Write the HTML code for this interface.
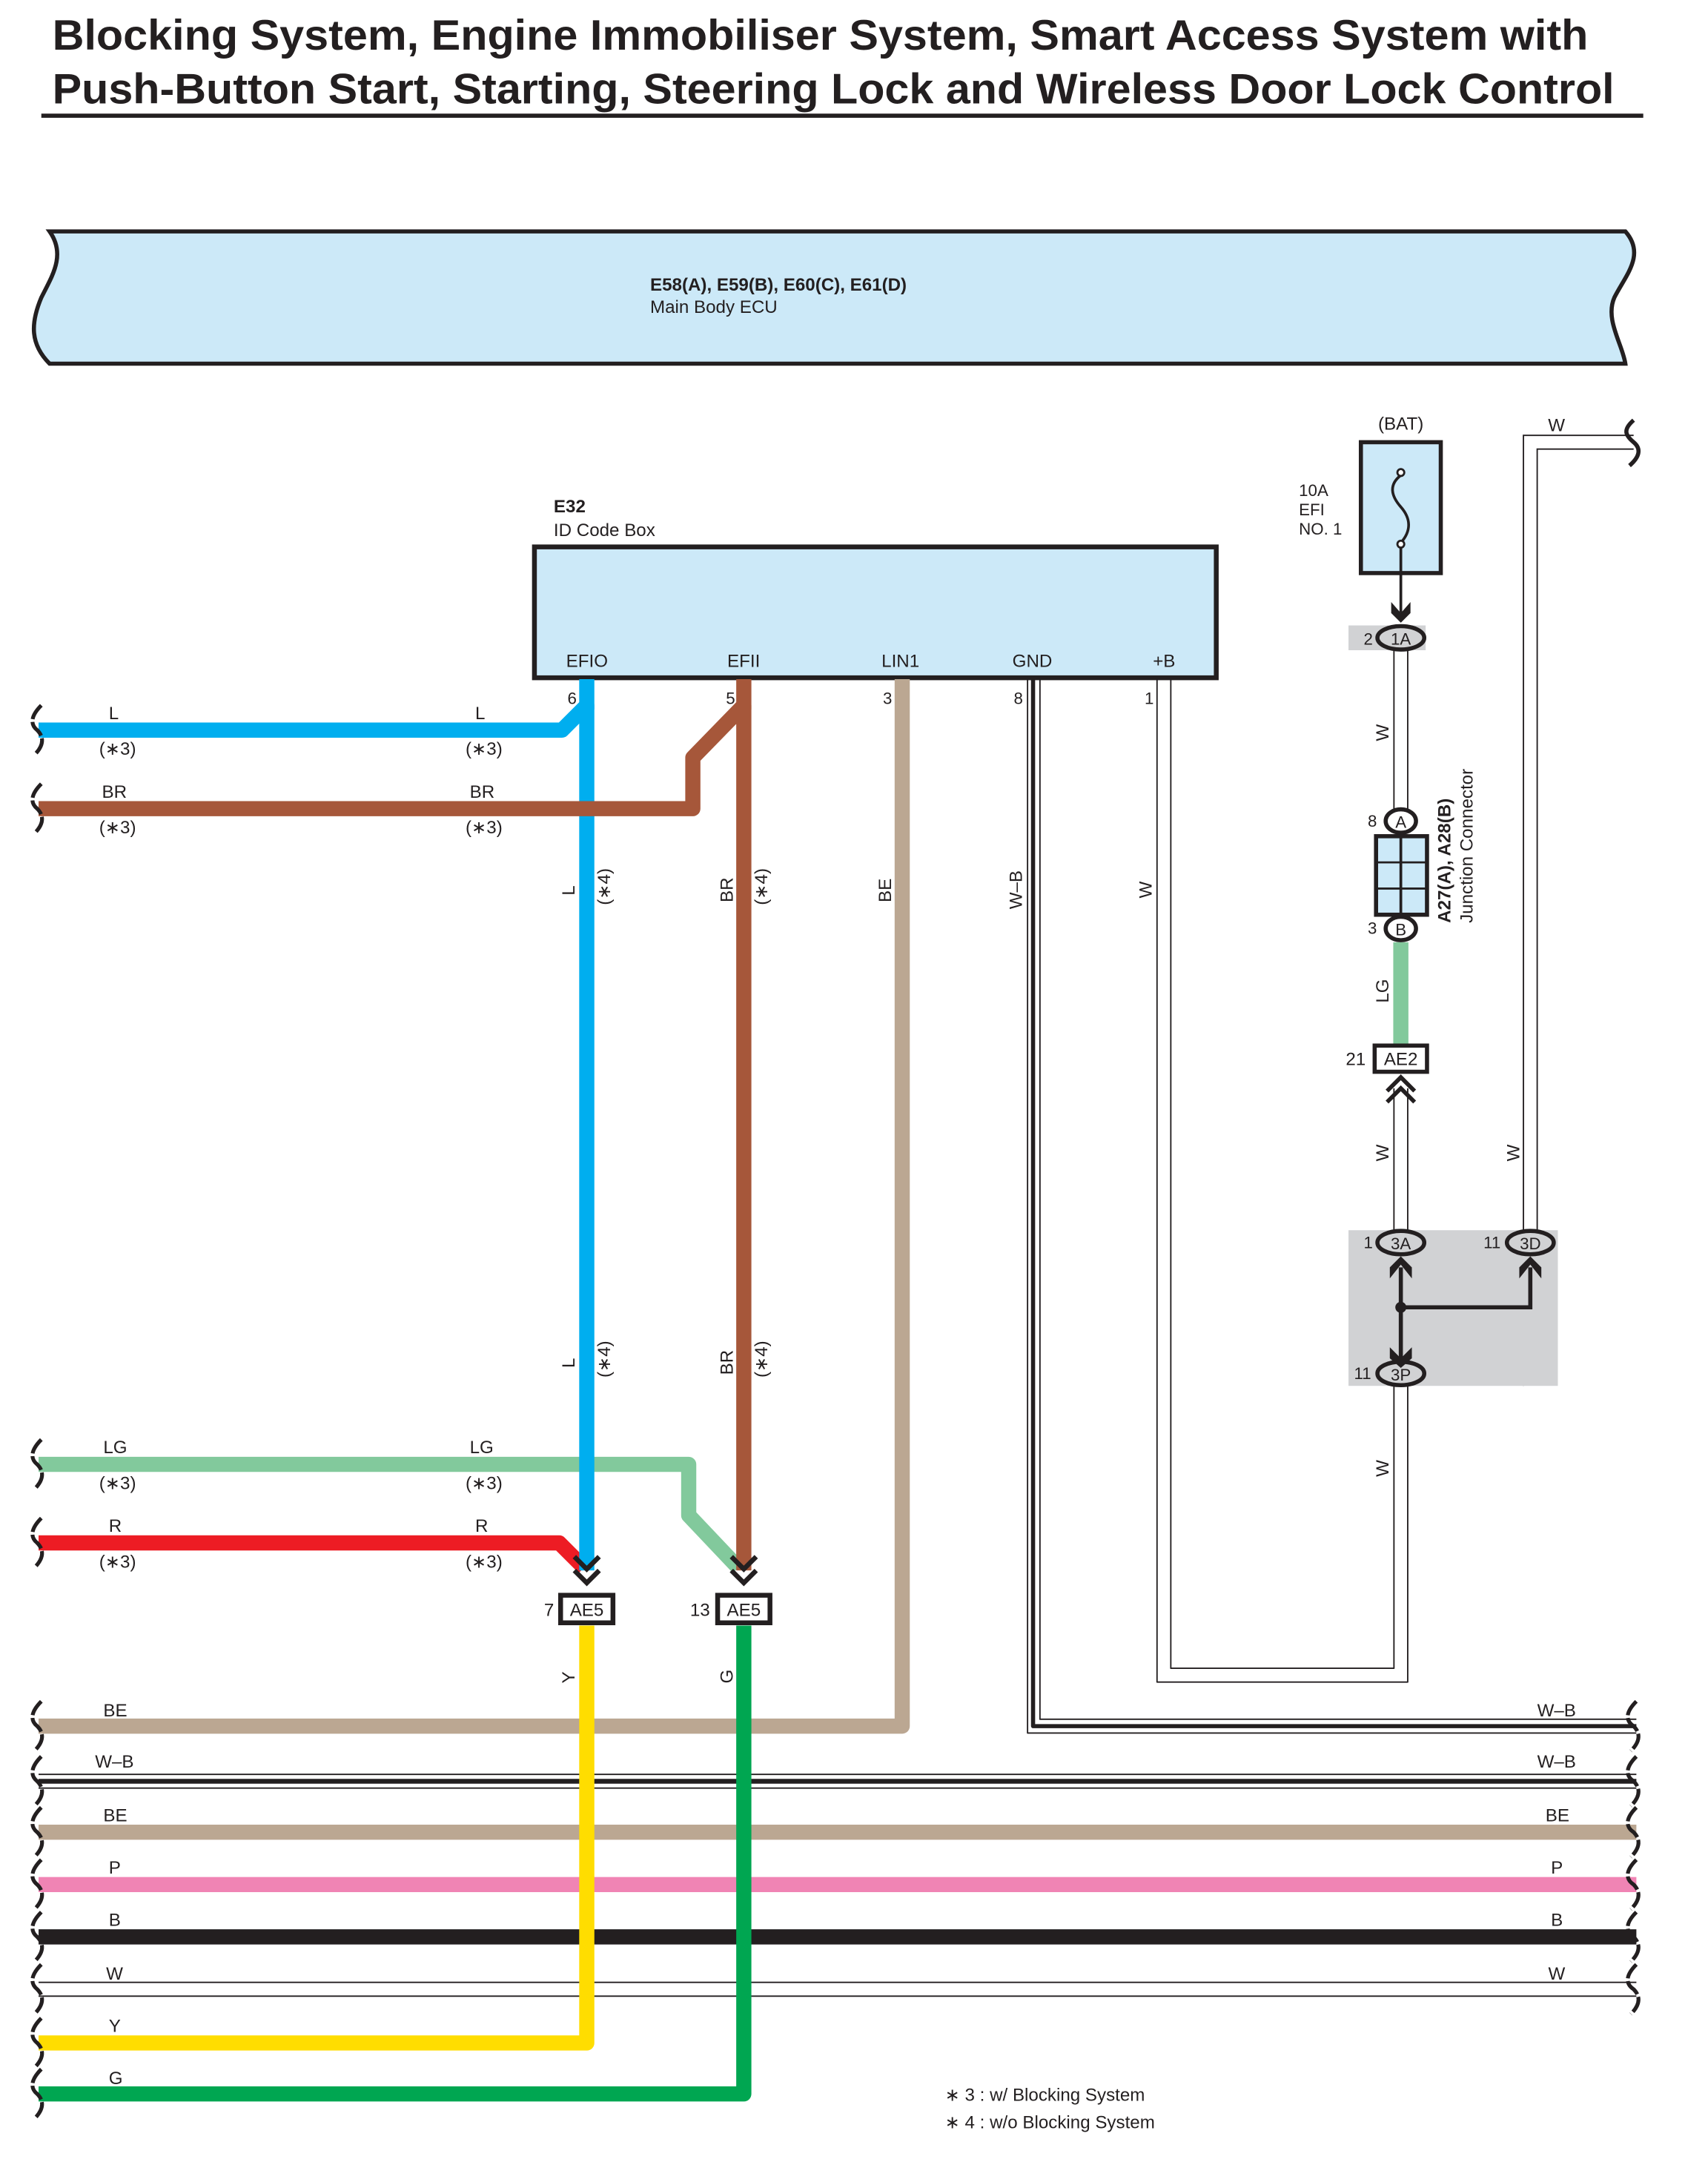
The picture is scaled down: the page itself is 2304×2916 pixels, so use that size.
<!DOCTYPE html>
<html><head><meta charset="utf-8"><style>
html,body{margin:0;padding:0;background:#fff}
svg{display:block}
text{font-family:"Liberation Sans Narrow","Liberation Sans",sans-serif;fill:#231f20}
.t{font-family:"Liberation Sans",sans-serif;font-weight:bold;font-size:31px}
.s{font-size:13px}
.m{font-size:12px}
.c{text-anchor:middle}
</style></head><body>
<svg width="2304" height="2916" viewBox="0 0 1240 1569.4" preserveAspectRatio="none" xmlns="http://www.w3.org/2000/svg">
<text class="t" x="38" y="36" textLength="1115" lengthAdjust="spacingAndGlyphs">Blocking System, Engine Immobiliser System, Smart Access System with</text>
<text class="t" x="38" y="75" textLength="1134" lengthAdjust="spacingAndGlyphs">Push-Button Start, Starting, Steering Lock and Wireless Door Lock Control</text>
<line x1="30" y1="84" x2="1193" y2="84" stroke="#231f20" stroke-width="3"/>

<path d="M36,168 L1180,168 C1195,185 1180,200 1172,216 C1165,232 1178,250 1180,264 L36,264 C22,250 22,235 30,216 C38,200 48,185 36,168 Z" fill="#cce9f8" stroke="#231f20" stroke-width="3"/>
<text x="472" y="211" class="s" style="font-weight:bold">E58(A), E59(B), E60(C), E61(D)</text>
<text x="472" y="227" class="s">Main Body ECU</text>

<text x="402" y="372" class="s" style="font-weight:bold">E32</text>
<text x="402" y="389" class="s">ID Code Box</text>
<rect x="388" y="397" width="495" height="95" fill="#cce9f8" stroke="#231f20" stroke-width="3.5"/>
<text x="411" y="484" class="s">EFIO</text>
<text x="528" y="484" class="s">EFII</text>
<text x="640" y="484" class="s">LIN1</text>
<text x="735" y="484" class="s">GND</text>
<text x="837" y="484" class="s">+B</text>
<text x="412" y="511" class="m">6</text>
<text x="527" y="511" class="m">5</text>
<text x="641" y="511" class="m">3</text>
<text x="736" y="511" class="m">8</text>
<text x="831" y="511" class="m">1</text>

<g fill="none" stroke-linejoin="round">
<line x1="28" y1="1288" x2="1188" y2="1288" stroke="#231f20" stroke-width="1"/>
<line x1="28" y1="1293" x2="1188" y2="1293" stroke="#231f20" stroke-width="3.5"/>
<line x1="28" y1="1298" x2="1188" y2="1298" stroke="#231f20" stroke-width="1"/>
<line x1="28" y1="1330" x2="1188" y2="1330" stroke="#bba792" stroke-width="11"/>
<line x1="28" y1="1368" x2="1188" y2="1368" stroke="#f084b4" stroke-width="11"/>
<line x1="28" y1="1406" x2="1188" y2="1406" stroke="#231f20" stroke-width="11"/>
<line x1="28" y1="1439" x2="1188" y2="1439" stroke="#231f20" stroke-width="1"/>
<line x1="28" y1="1449" x2="1188" y2="1449" stroke="#231f20" stroke-width="1"/>

<polyline points="746,493 746,1258 1188,1258" stroke="#231f20" stroke-width="1"/>
<polyline points="750,493 750,1253 1188,1253" stroke="#231f20" stroke-width="3"/>
<polyline points="755,493 755,1248 1188,1248" stroke="#231f20" stroke-width="1"/>
<polyline points="840,493 840,1221 1022,1221 1022,1006" stroke="#231f20" stroke-width="1"/>
<polyline points="850,493 850,1211 1012,1211 1012,1006" stroke="#231f20" stroke-width="1"/>

<polyline points="655,493 655,1253 28,1253" stroke="#bba792" stroke-width="11"/>
<polyline points="28,1063 500,1063 500,1100 536,1138" stroke="#82c99c" stroke-width="11"/>
<polyline points="28,1120 406,1120 424,1138" stroke="#ed1c24" stroke-width="11"/>
<polyline points="28,530 408,530 426,512 426,1140" stroke="#00aeef" stroke-width="11"/>
<polyline points="28,587 503,587 503,550 540,512 540,1140" stroke="#a6573a" stroke-width="11"/>
<line x1="540" y1="493" x2="540" y2="515" stroke="#a6573a" stroke-width="11"/>
<line x1="426" y1="493" x2="426" y2="515" stroke="#00aeef" stroke-width="11"/>
<polyline points="426,1180 426,1483 28,1483" stroke="#ffdd00" stroke-width="11"/>
<polyline points="540,1180 540,1520 28,1520" stroke="#00a651" stroke-width="11"/>

<polyline points="417,1130 426,1139 435,1130" stroke="#231f20" stroke-width="3.5" stroke-linejoin="miter"/>
<polyline points="417,1140 426,1149 435,1140" stroke="#231f20" stroke-width="3.5" stroke-linejoin="miter"/>
<polyline points="531,1130 540,1139 549,1130" stroke="#231f20" stroke-width="3.5" stroke-linejoin="miter"/>
<polyline points="531,1140 540,1149 549,1140" stroke="#231f20" stroke-width="3.5" stroke-linejoin="miter"/>
</g>
<rect x="407" y="1158" width="38" height="20" fill="#fff" stroke="#231f20" stroke-width="3.5"/>
<rect x="521" y="1158" width="38" height="20" fill="#fff" stroke="#231f20" stroke-width="3.5"/>
<text x="426" y="1173" class="s c">AE5</text>
<text x="540" y="1173" class="s c">AE5</text>
<text x="395" y="1173" class="s">7</text>
<text x="501" y="1173" class="s">13</text>

<g fill="none">
<polyline points="1106,1006 1106,316 1186,316" stroke="#231f20" stroke-width="1"/>
<polyline points="1116,893 1116,326 1186,326" stroke="#231f20" stroke-width="1"/>
<line x1="1012" y1="472" x2="1012" y2="588" stroke="#231f20" stroke-width="1"/>
<line x1="1022" y1="472" x2="1022" y2="588" stroke="#231f20" stroke-width="1"/>
<line x1="1012" y1="790" x2="1012" y2="893" stroke="#231f20" stroke-width="1"/>
<line x1="1022" y1="790" x2="1022" y2="893" stroke="#231f20" stroke-width="1"/>
<line x1="1017" y1="684" x2="1017" y2="759" stroke="#82c99c" stroke-width="11"/>
</g>
<rect x="979" y="454" width="56" height="18" fill="#d1d2d4"/>
<rect x="979" y="893" width="152" height="113" fill="#d1d2d4"/>
<rect x="988" y="321" width="58" height="95" fill="#cce9f8" stroke="#231f20" stroke-width="3"/>
<path d="M1017,345 C1008,352 1010,360 1017,368 C1024,376 1025,385 1017,394" fill="none" stroke="#231f20" stroke-width="2"/>
<circle cx="1017" cy="343" r="2.5" fill="#fff" stroke="#231f20" stroke-width="1.5"/>
<circle cx="1017" cy="395" r="2.5" fill="#fff" stroke="#231f20" stroke-width="1.5"/>
<line x1="1017" y1="397" x2="1017" y2="445" stroke="#231f20" stroke-width="2"/>
<path d="M1010,437 L1017,445 L1024,437 L1024,445 L1017,452 L1010,445 Z" fill="#231f20"/>
<text x="1017" y="312" class="s c">(BAT)</text>
<text x="943" y="360" class="m">10A</text>
<text x="943" y="374" class="m">EFI</text>
<text x="943" y="388" class="m">NO. 1</text>
<text x="1130" y="313" class="s c">W</text>
<path d="M1186,305 C1178,312 1180,316 1186,321 C1192,326 1190,332 1183,338" fill="none" stroke="#231f20" stroke-width="3"/>

<g stroke="#231f20" stroke-width="3" fill="#d1d2d4">
<ellipse cx="1017" cy="463" rx="17" ry="8.5"/>
<ellipse cx="1017" cy="902" rx="17" ry="8.5"/>
<ellipse cx="1111" cy="902" rx="17" ry="8.5"/>
<ellipse cx="1017" cy="997" rx="17" ry="8.5"/>
</g>
<g stroke="#231f20" stroke-width="3" fill="#fff">
<ellipse cx="1017" cy="596" rx="11" ry="8.5"/>
<ellipse cx="1017" cy="674" rx="11" ry="8.5"/>
</g>
<rect x="999" y="607" width="37" height="57" fill="#cce9f8" stroke="#231f20" stroke-width="3"/>
<line x1="1017" y1="607" x2="1017" y2="664" stroke="#231f20" stroke-width="2"/>
<line x1="999" y1="626" x2="1036" y2="626" stroke="#231f20" stroke-width="1.5"/>
<line x1="999" y1="645" x2="1036" y2="645" stroke="#231f20" stroke-width="1.5"/>
<text x="1017" y="468" class="m c">1A</text>
<text x="990" y="468" class="m">2</text>
<text x="1017" y="601" class="m c">A</text>
<text x="993" y="600" class="m">8</text>
<text x="1017" y="679" class="m c">B</text>
<text x="993" y="678" class="m">3</text>
<text x="1017" y="907" class="m c">3A</text>
<text x="990" y="906" class="m">1</text>
<text x="1111" y="907" class="m c">3D</text>
<text x="1077" y="906" class="m">11</text>
<text x="1017" y="1002" class="m c">3P</text>
<text x="983" y="1001" class="m">11</text>
<rect x="998" y="759" width="38" height="19" fill="#fff" stroke="#231f20" stroke-width="3"/>
<text x="1017" y="773" class="s c">AE2</text>
<text x="977" y="773" class="s">21</text>
<g fill="none" stroke="#231f20" stroke-width="3">
<polyline points="1007,792 1017,782 1027,792"/>
<polyline points="1007,800 1017,790 1027,800"/>
<polyline points="1017,920 1017,990"/>
<polyline points="1017,949 1111,949 1111,920"/>
</g>
<path d="M1009,928 L1017,918 L1025,928 L1025,920 L1017,912 L1009,920 Z" fill="#231f20"/>
<path d="M1103,928 L1111,918 L1119,928 L1119,920 L1111,912 L1103,920 Z" fill="#231f20"/>
<path d="M1009,978 L1017,986 L1025,978 L1025,986 L1017,993 L1009,986 Z" fill="#231f20"/>
<circle cx="1017" cy="949" r="4" fill="#231f20"/>
<text transform="translate(1053,670) rotate(-90)" class="s" style="font-weight:bold">A27(A), A28(B)</text>
<text transform="translate(1069,670) rotate(-90)" class="s">Junction Connector</text>

<g class="s">
<text transform="translate(1008,538) rotate(-90)" class="s">W</text>
<text transform="translate(1008,728) rotate(-90)" class="s">LG</text>
<text transform="translate(1008,843) rotate(-90)" class="s">W</text>
<text transform="translate(1103,843) rotate(-90)" class="s">W</text>
<text transform="translate(1008,1072) rotate(-90)" class="s">W</text>
<text transform="translate(836,652) rotate(-90)" class="s">W</text>
<text transform="translate(742,660) rotate(-90)" class="s">W–B</text>
<text transform="translate(647,655) rotate(-90)" class="s">BE</text>
<text transform="translate(417,650) rotate(-90)" class="s">L</text>
<text transform="translate(443,657) rotate(-90)" class="s">(∗4)</text>
<text transform="translate(532,655) rotate(-90)" class="s">BR</text>
<text transform="translate(557,657) rotate(-90)" class="s">(∗4)</text>
<text transform="translate(417,993) rotate(-90)" class="s">L</text>
<text transform="translate(443,1000) rotate(-90)" class="s">(∗4)</text>
<text transform="translate(532,998) rotate(-90)" class="s">BR</text>
<text transform="translate(557,1000) rotate(-90)" class="s">(∗4)</text>
<text transform="translate(417,1222) rotate(-90)" class="s">Y</text>
<text transform="translate(532,1222) rotate(-90)" class="s">G</text>
</g>

<g class="s">
<text x="79" y="522" class="s">L</text><text x="72" y="548" class="s">(∗3)</text>
<text x="345" y="522" class="s">L</text><text x="338" y="548" class="s">(∗3)</text>
<text x="74" y="579" class="s">BR</text><text x="72" y="605" class="s">(∗3)</text>
<text x="341" y="579" class="s">BR</text><text x="338" y="605" class="s">(∗3)</text>
<text x="75" y="1055" class="s">LG</text><text x="72" y="1081" class="s">(∗3)</text>
<text x="341" y="1055" class="s">LG</text><text x="338" y="1081" class="s">(∗3)</text>
<text x="79" y="1112" class="s">R</text><text x="72" y="1138" class="s">(∗3)</text>
<text x="345" y="1112" class="s">R</text><text x="338" y="1138" class="s">(∗3)</text>
<text x="75" y="1246" class="s">BE</text><text x="1116" y="1246" class="s">W–B</text>
<text x="69" y="1283" class="s">W–B</text><text x="1116" y="1283" class="s">W–B</text>
<text x="75" y="1322" class="s">BE</text><text x="1122" y="1322" class="s">BE</text>
<text x="79" y="1360" class="s">P</text><text x="1126" y="1360" class="s">P</text>
<text x="79" y="1398" class="s">B</text><text x="1126" y="1398" class="s">B</text>
<text x="77" y="1437" class="s">W</text><text x="1124" y="1437" class="s">W</text>
<text x="79" y="1475" class="s">Y</text>
<text x="79" y="1513" class="s">G</text>
</g>
<text x="686" y="1525" class="s">∗ 3 : w/ Blocking System</text>
<text x="686" y="1545" class="s">∗ 4 : w/o Blocking System</text>

<g fill="none" stroke="#231f20" stroke-width="2.8" stroke-dasharray="12,2">
<path d="M30,512 C22,520 22,526 27,530 C32,535 32,541 25,548"/>
<path d="M30,569 C22,577 22,583 27,587 C32,592 32,598 25,605"/>
<path d="M30,1045 C22,1053 22,1059 27,1063 C32,1068 32,1074 25,1081"/>
<path d="M30,1102 C22,1110 22,1116 27,1120 C32,1125 32,1131 25,1138"/>
<path d="M30,1235 C22,1243 22,1249 27,1253 C32,1258 32,1264 25,1271"/>
<path d="M30,1275 C22,1283 22,1289 27,1293 C32,1298 32,1304 25,1311"/>
<path d="M30,1312 C22,1320 22,1326 27,1330 C32,1335 32,1341 25,1348"/>
<path d="M30,1350 C22,1358 22,1364 27,1368 C32,1373 32,1379 25,1386"/>
<path d="M30,1388 C22,1396 22,1402 27,1406 C32,1411 32,1417 25,1424"/>
<path d="M30,1426 C22,1434 22,1440 27,1444 C32,1449 32,1455 25,1462"/>
<path d="M30,1465 C22,1473 22,1479 27,1483 C32,1488 32,1494 25,1501"/>
<path d="M30,1502 C22,1510 22,1516 27,1520 C32,1525 32,1531 25,1538"/>
<path d="M1188,1235 C1180,1243 1180,1249 1186,1253 C1191,1258 1191,1264 1184,1271"/>
<path d="M1188,1275 C1180,1283 1180,1289 1186,1293 C1191,1298 1191,1304 1184,1311"/>
<path d="M1188,1312 C1180,1320 1180,1326 1186,1330 C1191,1335 1191,1341 1184,1348"/>
<path d="M1188,1350 C1180,1358 1180,1364 1186,1368 C1191,1373 1191,1379 1184,1386"/>
<path d="M1188,1388 C1180,1396 1180,1402 1186,1406 C1191,1411 1191,1417 1184,1424"/>
<path d="M1188,1426 C1180,1434 1180,1440 1186,1444 C1191,1449 1191,1455 1184,1462"/>
</g>
</svg>
</body></html>
